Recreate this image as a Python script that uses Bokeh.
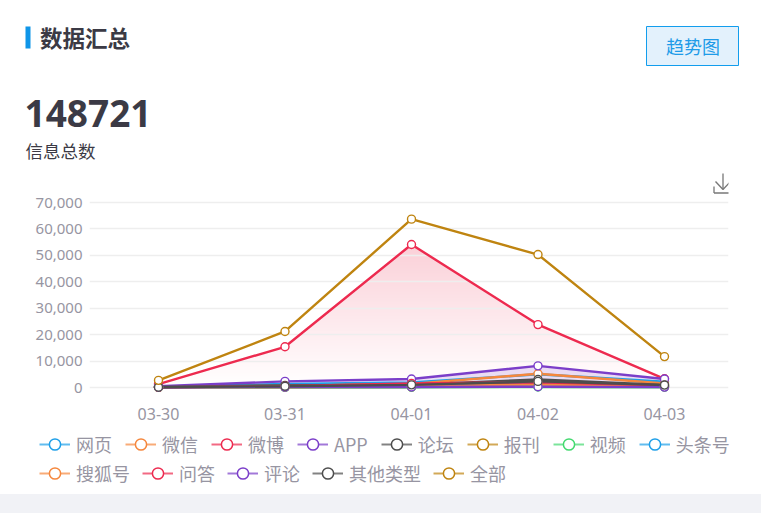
from bokeh.embed import file_html
from bokeh.resources import INLINE
from bokeh.plotting import figure
from bokeh.layouts import column
from bokeh.models import (Label, BoxAnnotation, PolyAnnotation, Legend, LegendItem, Range1d,
                          FixedTicker, NumeralTickFormatter, GlobalInlineStyleSheet)
import numpy as np

dates = ["03-30", "03-31", "04-01", "04-02", "04-03"]
y_ticks = [0, 10000, 20000, 30000, 40000, 50000, 60000, 70000]
row1 = ["网页", "微信", "微博", "APP", "论坛", "报刊", "视频", "头条号"]
row2 = ["搜狐号", "问答", "评论", "其他类型", "全部"]

web = [350, 1300, 1900, 5000, 2200]
wechat = [200, 700, 1300, 5200, 1500]
weibo = [1300, 15400, 54100, 23800, 3300]
app = [500, 2300, 3200, 8200, 3200]
forum = [200, 800, 1100, 3000, 1000]
paper = [50, 100, 150, 1300, 400]
video = [30, 60, 100, 200, 80]
toutiao = [100, 400, 700, 1900, 700]
sohu = [60, 200, 400, 1200, 300]
qa = [100, 500, 1500, 2000, 800]
comment = [100, 150, 200, 300, 150]
other = [100, 500, 1000, 2300, 900]
total = [2700, 21200, 63700, 50300, 11700]

BLUE, ORANGE, RED, PURPLE, DARK, GOLD, GREEN = "#1e9fe8", "#f5873d", "#ed2a4f", "#7b3ec9", "#4d4d4d", "#bf8410", "#43d96f"
series = [("网页", web, BLUE), ("微信", wechat, ORANGE), ("微博", weibo, RED), ("APP", app, PURPLE),
          ("论坛", forum, DARK), ("报刊", paper, GOLD), ("视频", video, GREEN), ("头条号", toutiao, BLUE),
          ("搜狐号", sohu, ORANGE), ("问答", qa, RED), ("评论", comment, PURPLE), ("其他类型", other, DARK),
          ("全部", total, GOLD)]

CJK = "Noto Sans CJK SC"
XI = list(range(len(dates)))
PX_X = 126.5
PX_Y = 185 / 70000
W = 761
HEAD_H = 170


def blank(h, yr):
    f = figure(width=W, height=h, output_backend="svg", toolbar_location=None, frame_align=False,
               x_range=Range1d(0, W), y_range=yr, x_axis_type=None, y_axis_type=None,
               min_border=0, border_fill_alpha=0, background_fill_alpha=0, outline_line_color=None)
    f.grid.visible = False
    return f


# ---- header
head = blank(HEAD_H, Range1d(0, HEAD_H))
head.stylesheets = [GlobalInlineStyleSheet(css="html{height:100%;background:linear-gradient(#fff 494px,#f1f2f6 494px)}")]


def text(f, t, x, y, size, color, font=CJK, style="normal", align="left"):
    f.add_layout(Label(x=x, y=y, x_units="canvas", y_units="canvas", text=t, text_font=font,
                       text_font_size=size, text_color=color, text_font_style=style,
                       text_baseline="middle", text_align=align))


head.add_layout(BoxAnnotation(left=25, right=30, top=26, bottom=48, left_units="canvas",
                              right_units="canvas", top_units="canvas", bottom_units="canvas",
                              fill_color="#0f95e8", fill_alpha=1, line_color=None))
head.add_layout(BoxAnnotation(left=646, right=738, top=26, bottom=65, left_units="canvas",
                              right_units="canvas", top_units="canvas", bottom_units="canvas",
                              fill_color="#e3f1fc", fill_alpha=1, line_color="#129ded", line_width=1, line_alpha=1))
text(head, "数据汇总", 39.5, 36, "22.5px", "#3b3a45", style="bold")
text(head, "趋势图", 692.5, 45, "18px", "#1e9be8", align="center")
text(head, "148721", 24, 113, "37px", "#3b3a45", font="Noto Sans", style="bold")
text(head, "信息总数", 25, 150, "17.5px", "#3b3a45")

# ---- chart
p = figure(width=W, height=255, output_backend="svg", toolbar_location=None, frame_align=False,
           x_range=Range1d((89 - 158) / PX_X, (728 - 158) / PX_X),
           y_range=Range1d(-13 / PX_Y, 70000 + (202 - HEAD_H) / PX_Y),
           min_border_left=89, min_border_right=33, min_border_top=0, min_border_bottom=25,
           border_fill_alpha=0, background_fill_alpha=0, outline_line_color=None)
p.xgrid.visible = False
p.ygrid.grid_line_color = "#eeeeee"
p.ygrid.grid_line_width = 1.5
p.ygrid.ticker = FixedTicker(ticks=y_ticks)
p.yaxis.ticker = FixedTicker(ticks=y_ticks)
p.yaxis.formatter = NumeralTickFormatter(format="0,0")
p.xaxis.ticker = FixedTicker(ticks=XI)
p.xaxis.major_label_overrides = {i: d for i, d in enumerate(dates)}
for ax in (p.xaxis, p.yaxis):
    ax.axis_line_color = None
    ax.major_tick_line_color = None
    ax.minor_tick_line_color = None
    ax.major_label_text_color = "#9795a2"
    ax.major_label_text_font = "Noto Sans"
    ax.major_label_text_font_size = "15px"
p.xaxis.major_label_text_font_size = "16px"
p.xaxis.major_label_standoff = 1
p.yaxis.major_label_standoff = 1

peak = max(weibo)
p.varea(x=XI, y1=[0] * len(XI), y2=weibo, fill_color=RED, fill_alpha=0.22, level="image")
ramp = np.zeros((256, 1), dtype=np.uint32)
view = ramp.view(dtype=np.uint8).reshape((256, 1, 4))
view[:, 0, :3] = 255
view[:, 0, 3] = np.linspace(255, 0, 256).astype(np.uint8)
p.image_rgba(image=[ramp], x=0, y=0, dw=4, dh=peak, level="image")
p.varea(x=XI, y1=[0] * len(XI), y2=app, fill_color=PURPLE, fill_alpha=0.16, level="image")

for name, vals, col in series:
    p.line(XI, vals, line_color=col, line_width=2.4)
for name, vals, col in series:
    p.scatter(XI, vals, marker="circle", size=8, fill_color="#ffffff", line_color=col, line_width=1.4)

# download icon, inside the chart's frame (canvas y measured from the chart's top)
ICON = [([713.5, 713.5, 731, 731], [186, 192.5, 192.5, 186]),
        ([722.5, 722.5], [173, 189]),
        ([715, 722.5, 730], [181, 189, 181])]
for xs, ys in ICON:
    for i in range(len(xs) - 1):
        p.add_layout(PolyAnnotation(xs=xs[i:i + 2], ys=[v - HEAD_H for v in ys[i:i + 2]],
                                    xs_units="canvas", ys_units="canvas",
                                    fill_alpha=0, line_color="#777777", line_width=1.3, line_alpha=1))

# ---- legend: the series are drawn out of this panel's y range, only their keys show
lg = blank(69, Range1d(-2000000, -2000000 + 69))


def make_legend(names, y, gap):
    items = []
    for n in names:
        vals, col = next((v, c) for m, v, c in series if m == n)
        l = lg.line(XI, vals, line_color=col, line_width=2, line_alpha=0.7)
        m = lg.scatter(XI, vals, marker="circle", size=10, fill_color="#ffffff", line_color=col, line_width=1.5)
        items.append(LegendItem(label=n, renderers=[l, m]))
    leg = Legend(items=items, orientation="horizontal", location=(39, y), margin=0, padding=0,
                 spacing=gap, glyph_width=31, glyph_height=28, label_standoff=6, label_width=10, label_height=18,
                 label_text_font=CJK, label_text_font_size="18px", label_text_color="#9795a2",
                 border_line_color=None, background_fill_alpha=0)
    lg.add_layout(leg)


make_legend(row1, 36, 13)
make_legend(row2, 7, 12)

page = column(head, p, lg, spacing=0)
open("out.html", "w").write(file_html(page, INLINE))
